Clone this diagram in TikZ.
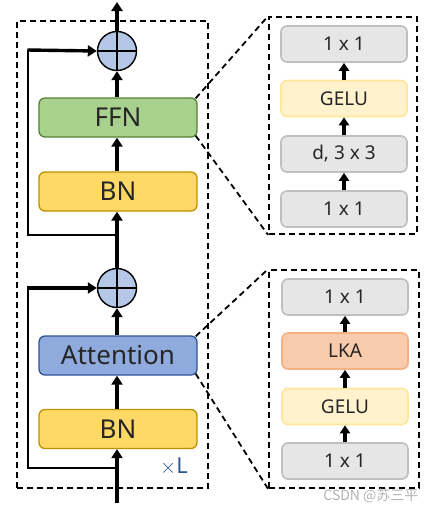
\documentclass[tikz,border=0pt]{standalone}
\usepackage{fontspec}
\setmainfont{Noto Sans}
\newfontfamily\cjkfont{Noto Sans CJK SC}
\usetikzlibrary{arrows.meta}
\definecolor{txt}{HTML}{262626}
\definecolor{ffnfill}{HTML}{A9D18E}\definecolor{ffnline}{HTML}{548235}
\definecolor{bnfill}{HTML}{FFD966}\definecolor{bnline}{HTML}{BF9000}
\definecolor{attfill}{HTML}{8FAADC}\definecolor{attline}{HTML}{2F5597}
\definecolor{grayfill}{HTML}{E7E6E6}\definecolor{grayline}{HTML}{BFBFBF}
\definecolor{gelufill}{HTML}{FFF2CC}\definecolor{geluline}{HTML}{FFE699}
\definecolor{lkafill}{HTML}{F8CBAD}\definecolor{lkaline}{HTML}{F4B183}
\definecolor{addfill}{HTML}{B4C7E7}
\definecolor{xlcol}{HTML}{2F5597}
\tikzset{
  bigbox/.style={draw, line width=1.3pt, rounded corners=6pt, minimum width=158pt, minimum height=39pt, inner sep=0pt, text=txt, font=\fontsize{26}{26}\selectfont},
  smallbox/.style={draw, line width=1.6pt, rounded corners=6pt, minimum width=126pt, minimum height=36pt, inner sep=0pt, text=txt, font=\fontsize{19}{19}\selectfont},
  addnode/.style={circle, draw, line width=1.4pt, fill=addfill, minimum size=39pt, inner sep=0pt},
  mainarrow/.style={line width=3.4pt, -{Triangle[length=9pt,width=11pt]}},
  innerarrow/.style={line width=3.4pt, -{Triangle[length=8pt,width=10pt]}},
  thinline/.style={line width=1.5pt},
  dashbox/.style={draw, line width=1.8pt, dash pattern=on 6pt off 4pt},
}
\begin{document}
\begin{tikzpicture}[x=1pt,y=-1pt]
\useasboundingbox (0,0) rectangle (435,512);
% outer dashed boxes
\node[dashbox, minimum width=191pt, minimum height=467pt, inner sep=0pt] (outer) at (112.5,254.5) {};
\node[dashbox, minimum width=148pt, minimum height=217pt, inner sep=0pt] (ffnzoom) at (343,125.5) {};
\node[dashbox, minimum width=150pt, minimum height=218pt, inner sep=0pt] (attzoom) at (344,379) {};
% main column
\node[addnode] (add1) at (117,51) {};
\node[bigbox, fill=ffnfill, draw=ffnline] (ffn) at (118,117.5) {FFN};
\node[bigbox, fill=bnfill, draw=bnline] (bn1) at (118,191.5) {BN};
\node[addnode] (add2) at (117,288) {};
\node[bigbox, fill=attfill, draw=attline] (att) at (118,355.5) {Attention};
\node[bigbox, fill=bnfill, draw=bnline] (bn2) at (118,429) {BN};
\draw[thinline] (add1.north) -- (add1.south) (add1.west) -- (add1.east);
\draw[thinline] (add2.north) -- (add2.south) (add2.west) -- (add2.east);
\coordinate (top) at (117,2);
\coordinate (bottom) at (117,503);
\coordinate (s1a) at (117,235);
\coordinate (s1b) at (28,235);
\coordinate (s1c) at (28,50);
\coordinate (s2a) at (117,468);
\coordinate (s2b) at (28,468);
\coordinate (s2c) at (28,288);
\draw[mainarrow] (add1.north) -- (top);
\draw[mainarrow] (ffn.north -| add1) -- (add1.south);
\draw[mainarrow] (bn1.north -| add1) -- (ffn.south -| add1);
\draw[mainarrow] (add2.north) -- (bn1.south -| add2);
\draw[mainarrow] (att.north -| add2) -- (add2.south);
\draw[mainarrow] (bn2.north -| add2) -- (att.south -| add2);
\draw[mainarrow] (bottom) -- (bn2.south -| add2);
\draw[thinline] (s1a) -- (s1b) -- (s1c);
\draw[mainarrow] ([xshift=-0.75pt]s1c) -- (add1.west);
\draw[thinline] (s2a) -- (s2b) -- (s2c);
\draw[mainarrow] ([xshift=-0.75pt]s2c) -- (add2.west);
\node[text=xlcol, font=\fontsize{22}{22}\selectfont, anchor=center] (xl) at (174,467) {$\times$L};
% FFN detail
\node[smallbox, fill=grayfill, draw=grayline] (f4) at (344,44) {1 x 1};
\node[smallbox, fill=gelufill, draw=geluline] (f3) at (344,98.5) {GELU};
\node[smallbox, fill=grayfill, draw=grayline] (f2) at (344,154) {d, 3 x 3};
\node[smallbox, fill=grayfill, draw=grayline] (f1) at (344,209) {1 x 1};
\draw[innerarrow] (f1.north) -- (f2.south);
\draw[innerarrow] (f2.north) -- (f3.south);
\draw[innerarrow] (f3.north) -- (f4.south);
% Attention detail
\node[smallbox, fill=grayfill, draw=grayline] (a4) at (345,297) {1 x 1};
\node[smallbox, fill=lkafill, draw=lkaline] (a3) at (345,351) {LKA};
\node[smallbox, fill=gelufill, draw=geluline] (a2) at (345,406.5) {GELU};
\node[smallbox, fill=grayfill, draw=grayline] (a1) at (345,461) {1 x 1};
\draw[innerarrow] (a1.north) -- (a2.south);
\draw[innerarrow] (a2.north) -- (a3.south);
\draw[innerarrow] (a3.north) -- (a4.south);
% zoom connectors
\draw[line width=1.8pt, dash pattern=on 6pt off 4pt] ([xshift=-2pt,yshift=-1pt]ffn.north east) -- (ffnzoom.north west);
\draw[line width=1.8pt, dash pattern=on 6pt off 4pt] ([xshift=-2pt,yshift=2pt]ffn.south east) -- (ffnzoom.south west);
\draw[line width=1.8pt, dash pattern=on 6pt off 4pt] ([xshift=-2pt,yshift=-1pt]att.north east) -- (attzoom.north west);
\draw[line width=1.8pt, dash pattern=on 6pt off 4pt] ([xshift=-2pt,yshift=2pt]att.south east) -- (attzoom.south west);
% watermark
\node[text=black!30, font=\cjkfont\fontsize{14}{14}\selectfont, anchor=east] (wm) at (422,496) {CSDN @苏三平};
\end{tikzpicture}
\end{document}
